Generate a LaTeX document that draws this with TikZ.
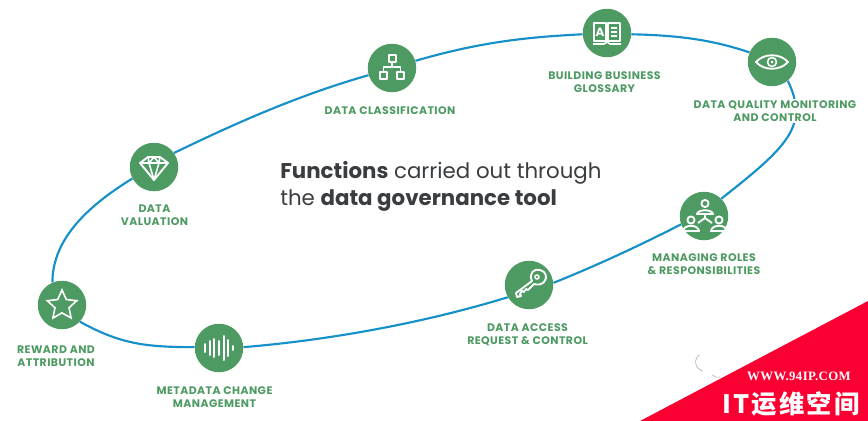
\documentclass[tikz,border=0pt]{standalone}
\usepackage{fontspec}
\setmainfont{Poppins}
\newfontfamily\capfont[LetterSpace=4]{Poppins}
\newfontfamily\cjk[LetterSpace=9]{Noto Sans CJK SC}
\newfontfamily\markfont[LetterSpace=3]{Liberation Serif}
\usetikzlibrary{shapes.geometric}
\definecolor{hubgreen}{HTML}{4E9A63}
\definecolor{loopblue}{HTML}{1590C8}
\definecolor{headgrey}{HTML}{3A3D40}
\definecolor{markred}{HTML}{FA0032}
\tikzset{
  hub/.style={circle, fill=hubgreen, minimum size=48.5*0.75pt, inner sep=0pt},
  caption/.style={align=center, text=hubgreen, font=\capfont\fontsize{8.2}{9.8}\selectfont\bfseries, fill=white, inner sep=1pt},
  loopline/.style={draw=loopblue, line width=1.6pt},
  icon/.style={draw=white, line width=1.2pt, line join=round},
}
\begin{document}
\begin{tikzpicture}[x=0.75pt, y=-0.75pt]
\useasboundingbox (0,0) rectangle (868,421);
% stops round the loop
\foreach \name/\x/\y in {star/62/305, wave/219/348, key/529/285, roles/704/216, eye/772/62, book/607/33, tree/392/68, gem/154/167}
  \node[hub] (\name) at (\x,\y) {};
% loop
\draw[loopline] (star.113) .. controls +(0,-45) and +(-42,26) .. (gem.208);
\draw[loopline] (gem.35) .. controls +(62,-30) and +(-70,20) .. (tree.197);
\draw[loopline] (tree.17) .. controls +(62,-18) and +(-60,3) .. (book.183);
\draw[loopline] (book.-3) .. controls +(45,1) and +(-38,-13) .. (eye.157);
\draw[loopline] (eye.-50) .. controls +(22,45) and +(66,-52) .. (roles.45);
\draw[loopline] (roles.200) .. controls +(-45,23) and +(40,-16) .. (key.5);
\draw[loopline] (key.210) .. controls +(-85,26) and +(85,-7) .. (wave.2);
\draw[loopline] (wave.178) .. controls +(-50,0) and +(40,22) .. (star.-43);
% captions
\node[caption] (gemcap) at (154.5,215) {DATA\\VALUATION};
\node[caption] (treecap) at (390,110.7) {DATA CLASSIFICATION};
\node[caption] (bookcap) at (604.5,82) {BUILDING BUSINESS\\GLOSSARY};
\node[caption] (eyecap) at (775,111) {DATA QUALITY MONITORING\\AND CONTROL};
\node[caption] (rolescap) at (704,264) {MANAGING ROLES\\\& RESPONSIBILITIES};
\node[caption] (keycap) at (527.5,335) {DATA ACCESS\\REQUEST \& CONTROL};
\node[caption] (wavecap) at (214.5,397) {METADATA CHANGE\\MANAGEMENT};
\node[caption] (starcap) at (56,356) {REWARD AND\\ATTRIBUTION};
\node[anchor=west, align=left, text=headgrey, font=\fontsize{16}{20.25}\selectfont, inner sep=0pt] (title) at (280,186) {\textbf{Functions} carried out through\\the \textbf{data governance tool}};
% icons
\node[star, star points=5, star point ratio=2.1, draw=white, line width=1.2pt, minimum size=31*0.75pt, inner sep=0pt] (staricon) at (62,305.5) {};
\begin{scope}[shift={(wave)}, x=0.75pt, y=-0.75pt, line width=1.5pt, white, line cap=round]
\foreach \x/\h in {-14/4,-9.5/7,-5/9,0/7,4.5/12,9/8,14/2}
  \draw (\x,-\h) -- (\x,\h);
\end{scope}
\begin{scope}[shift={(gem)}, x=0.75pt, y=-0.75pt]
\draw[icon, line width=1.4pt] (-14,-4) -- (-6,-10) -- (6,-10) -- (14,-4) -- (0,13) -- cycle;
\draw[icon] (-14,-4) -- (14,-4) (-6,-10) -- (-5,-4) -- (0,13) -- (5,-4) -- (6,-10) (-5,-4) -- (0,-10) -- (5,-4);
\end{scope}
\begin{scope}[shift={(tree)}, x=0.75pt, y=-0.75pt]
\draw[icon, line width=1.5pt] (-3.5,-13) rectangle (3.5,-6) (-12,4) rectangle (-5,11) (5,4) rectangle (12,11);
\draw[icon] (0,-6) -- (0,-1) (-8.5,4) -- (-8.5,-1) -- (8.5,-1) -- (8.5,4);
\end{scope}
\begin{scope}[shift={(book)}, x=0.75pt, y=-0.75pt]
\draw[icon, line width=1.4pt] (0,8) -- (-13,8) -- (-13,-10) -- (-1,-10) -- (-1,8) (1,8) -- (1,-10) -- (13,-10) -- (13,8) -- (0,8);
\draw[icon] (-14,11) -- (-3,11) -- (0,9) -- (3,11) -- (14,11);
\draw[icon] (4,-5) -- (10,-5) (4,-1) -- (10,-1) (4,3) -- (10,3);
\node[text=white, font=\fontsize{9}{9}\selectfont\bfseries, inner sep=0pt] (bookletter) at (-7,-1) {A};
\end{scope}
\begin{scope}[shift={(eye)}, x=0.75pt, y=-0.75pt]
\draw[icon, line width=1.4pt] (-16,0) .. controls (-8,-9) and (8,-9) .. (16,0) .. controls (8,9) and (-8,9) .. cycle;
\draw[icon] (0,0) circle (4.5);
\fill[white] (0,0) circle (1.5);
\end{scope}
\begin{scope}[shift={(roles)}, x=0.75pt, y=-0.75pt]
\draw[icon, line width=1.4pt] (1,-12.5) circle (3.6) (-13,4) circle (3.6) (15,4) circle (3.6);
\draw[icon, line width=1.4pt] (-7,-2) .. controls (-6,-7) and (8,-7) .. (9,-2) -- cycle;
\draw[icon, line width=1.4pt] (1,-2) -- (1,2) -- (-6,7) (1,2) -- (8,7);
\draw[icon, line width=1.4pt] (-21,15) .. controls (-20,8) and (-6,8) .. (-5,15) -- cycle;
\draw[icon, line width=1.4pt] (7,15) .. controls (8,8) and (22,8) .. (23,15) -- cycle;
\end{scope}
\begin{scope}[shift={(key)}, x=0.75pt, y=-0.75pt]
\draw[icon, line width=1.4pt] (3,-4) .. controls (-1,-12) and (6,-17) .. (11,-15) .. controls (17,-14) and (19,-7) .. (15,-3) .. controls (12,0) and (8,0) .. (5,-1) -- (-1,5) -- (-3,4) -- (-5,7) -- (-7,6) -- (-9,9) -- (-8,11) -- (-12,12) -- (-13,8) -- cycle;
\draw[icon] (8,-8) circle (2);
\end{scope}
% corner mark
\draw[gray!70, line width=.4pt] (703,371) arc (100:235:9) (720,377) arc (70:140:7);
\fill[markred] (868,301) -- (868,421) -- (640,421) -- cycle;
\node[text=white, font=\markfont\fontsize{9.6}{10}\selectfont\bfseries, inner sep=0pt] (markurl) at (799,376) {WWW.94IP.COM};
\node[text=white, font=\cjk\fontsize{19}{20}\selectfont\bfseries, inner sep=0pt] (markname) at (791,404) {IT运维空间};
\end{tikzpicture}
\end{document}
